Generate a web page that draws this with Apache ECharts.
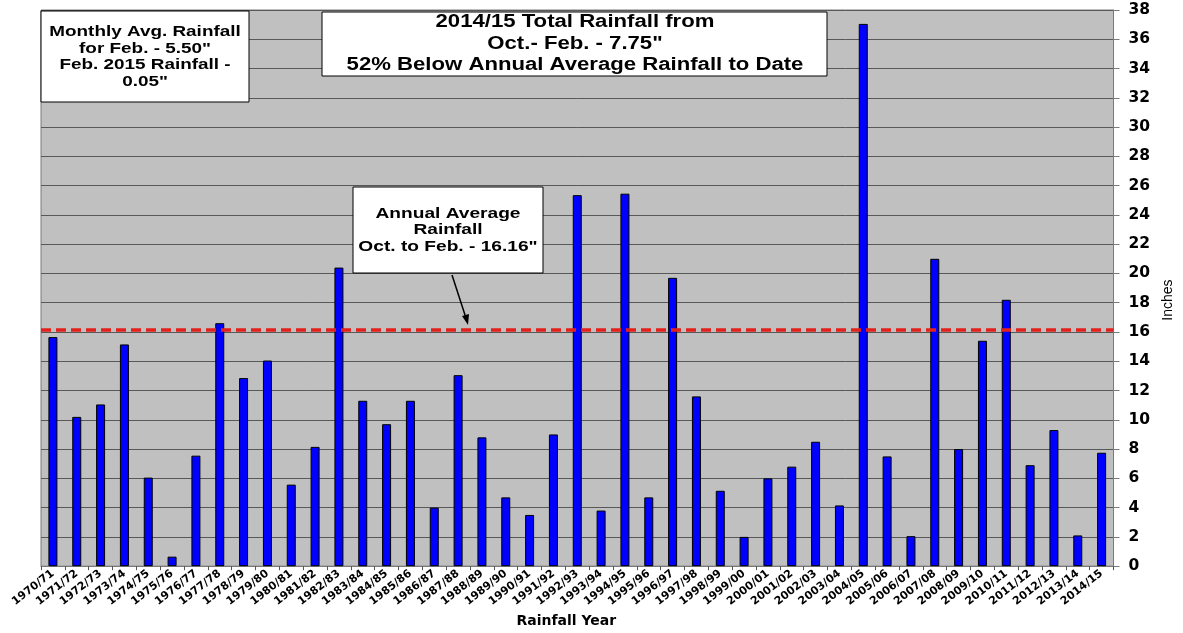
<!DOCTYPE html>
<html>
<head>
<meta charset="utf-8">
<title>Rainfall Oct.-Feb.</title>
<script src="https://cdn.jsdelivr.net/npm/echarts@6/dist/echarts.min.js"></script>
<style>
  html, body { margin: 0; padding: 0; background: #fff; }
  #chart { width: 1183px; height: 633px; }
</style>
</head>
<body>
<div id="chart"></div>
<script>
// rainfall years on the x axis
const years = [
  '1970/71', '1971/72', '1972/73', '1973/74', '1974/75', '1975/76', '1976/77', '1977/78', '1978/79', '1979/80',
  '1980/81', '1981/82', '1982/83', '1983/84', '1984/85', '1985/86', '1986/87', '1987/88', '1988/89', '1989/90',
  '1990/91', '1991/92', '1992/93', '1993/94', '1994/95', '1995/96', '1996/97', '1997/98', '1998/99', '1999/00',
  '2000/01', '2001/02', '2002/03', '2003/04', '2004/05', '2005/06', '2006/07', '2007/08', '2008/09', '2009/10',
  '2010/11', '2011/12', '2012/13', '2013/14', '2014/15'
]

// Oct. - Feb. rainfall, inches
const rainfall = [
  15.65, 10.2, 11.05, 15.15, 6.05, 0.65, 7.55, 16.6, 12.85, 14.05,
  5.57, 8.15, 20.4, 11.3, 9.7, 11.3, 4.0, 13.05, 8.8, 4.7,
  3.5, 9.0, 25.35, 3.8, 25.45, 4.7, 19.7, 11.6, 5.15, 2.0,
  6.0, 6.8, 8.5, 4.15, 37.05, 7.5, 2.05, 21.0, 8.0, 15.4,
  18.2, 6.9, 9.3, 2.1, 7.75
]

const annualAverage = 16.16
const yMin = 0
const yMax = 38
const yStep = 2

const font = '"Liberation Sans", Arial, sans-serif'
const wideFont = '"DejaVu Sans", sans-serif'

// boxed notes: text is stretched sideways like the original picture
const noteBox = (x, y, w, h) => ({
  type: 'rect',
  shape: { x, y, width: w, height: h },
  style: { fill: '#fff', stroke: '#000', lineWidth: 1 },
  z: 100,
})
const noteText = (x, y, text, size, lineHeight, stretch) => ({
  type: 'text',
  x,
  y,
  scaleX: stretch,
  style: {
    text,
    font: 'bold ' + size + 'px ' + font,
    fill: '#000',
    align: 'center',
    verticalAlign: 'middle',
    lineHeight,
  },
  z: 101,
})

const chart = echarts.init(document.getElementById('chart'))

const option = {
  backgroundColor: '#ffffff',
  animation: false,
  grid: {
    left: 41,
    right: 66,
    top: 10,
    bottom: 65,
    show: true,
    backgroundColor: '#c0c0c0',
    borderColor: '#7a7a7a',
    borderWidth: 1,
  },
  xAxis: {
    type: 'category',
    data: years,
    name: 'Rainfall Year',
    nameLocation: 'middle',
    nameGap: 44,
    nameTextStyle: {
      fontFamily: wideFont,
      fontWeight: 'bold',
      fontSize: 14,
      color: '#000',
      padding: [0, 22, 0, 0],
    },
    axisLine: { lineStyle: { color: '#7a7a7a', width: 1 } },
    axisTick: { show: true, length: 4, lineStyle: { color: '#555' } },
    axisLabel: {
      interval: 0,
      rotate: 38,
      margin: 6,
      fontFamily: wideFont,
      fontWeight: 'bold',
      fontSize: 11,
      color: '#000',
    },
  },
  yAxis: {
    type: 'value',
    position: 'right',
    min: yMin,
    max: yMax,
    interval: yStep,
    name: 'Inches',
    nameLocation: 'middle',
    nameRotate: 90,
    nameGap: 46,
    nameTextStyle: {
      fontFamily: font,
      fontSize: 14,
      color: '#000',
      padding: [0, 24, 0, 0],
    },
    axisLine: { show: true, lineStyle: { color: '#7a7a7a' } },
    axisTick: { show: true, length: 6, lineStyle: { color: '#7a7a7a' } },
    axisLabel: {
      margin: 15,
      fontFamily: wideFont,
      fontWeight: 'bold',
      fontSize: 15.5,
      color: '#000',
    },
    splitLine: { show: true, lineStyle: { color: '#585858', width: 1 } },
  },
  series: [
    {
      type: 'bar',
      data: rainfall,
      barWidth: 9,
      itemStyle: {
        color: '#0000ff',
        borderColor: '#000',
        borderWidth: 1,
      },
      markLine: {
        silent: true,
        symbol: ['none', 'none'],
        label: { show: false },
        lineStyle: { color: '#e3201b', width: 3.5, type: [10, 5] },
        data: [{ yAxis: annualAverage }],
      },
    },
  ],
  graphic: [
    noteBox(41, 11, 208, 91),
    noteText(145, 57, 'Monthly Avg. Rainfall\nfor Feb. - 5.50"\nFeb. 2015 Rainfall -\n0.05"', 15, 16.5, 1.26),
    noteBox(322, 12, 505, 64),
    noteText(575, 44, '2014/15 Total Rainfall from\nOct.- Feb. - 7.75"\n52% Below Annual Average Rainfall to Date', 18, 21.5, 1.23),
    noteBox(353, 187, 190, 86),
    noteText(448, 230, 'Annual Average\nRainfall\nOct. to Feb. - 16.16"', 14.5, 16.5, 1.32),
    {
      type: 'line',
      shape: { x1: 452, y1: 275, x2: 466, y2: 318 },
      style: { stroke: '#000', lineWidth: 1.5 },
      z: 100,
    },
    {
      type: 'polygon',
      shape: { points: [[468, 325], [462, 316], [469, 314]] },
      style: { fill: '#000' },
      z: 100,
    },
  ],
}

chart.setOption(option)

window.addEventListener('resize', () => chart.resize())
</script>
</body>
</html>
